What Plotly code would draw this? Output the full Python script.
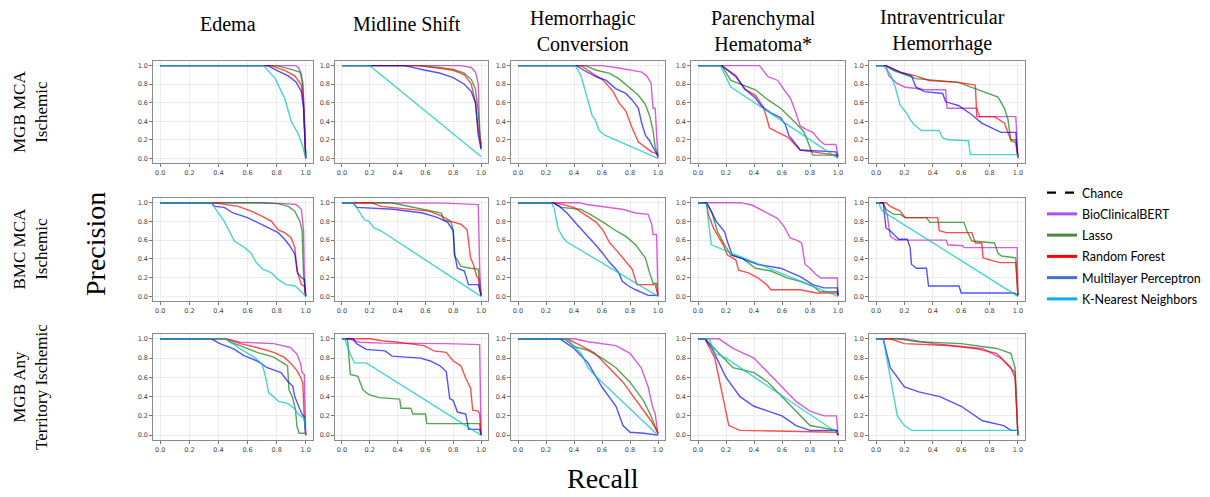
import plotly.graph_objects as go

# ---------------- data ----------------
CONDITIONS = ["Edema", "Midline Shift", "Hemorrhagic<br>Conversion",
              "Parenchymal<br>Hematoma*", "Intraventricular<br>Hemorrhage"]
COHORTS = ["MGB MCA<br>Ischemic", "BMC MCA<br>Ischemic", "MGB Any<br>Territory Ischemic"]
MODELS = ["BioClinicalBERT", "Lasso", "Random Forest", "Multilayer Perceptron", "K-Nearest Neighbors"]
TICKS = [0.0, 0.2, 0.4, 0.6, 0.8, 1.0]
TICK_LABELS = ["0.0", "0.2", "0.4", "0.6", "0.8", "1.0"]

# each curve: list of [recall, precision] points
# ---- row 1: MGB MCA Ischemic ----
R1_EDEMA = {
    "BioClinicalBERT": [[0, 1], [0.93, 1], [0.95, 0.98], [0.97, 0.91], [0.985, 0.65], [0.995, 0.3], [1.0, 0.0]],
    "Lasso": [[0, 1], [0.8, 1], [0.9, 0.96], [0.96, 0.93], [0.98, 0.82], [0.99, 0.47], [1.0, 0.0]],
    "Random Forest": [[0, 1], [0.76, 1], [0.855, 0.95], [0.925, 0.89], [0.97, 0.79], [0.985, 0.58], [1.0, 0.0]],
    "Multilayer Perceptron": [[0, 1], [0.74, 1], [0.8, 0.95], [0.88, 0.89], [0.935, 0.82], [0.97, 0.72], [0.985, 0.54], [1.0, 0.0]],
    "K-Nearest Neighbors": [[0, 1], [0.71, 1], [0.79, 0.86], [0.855, 0.65], [0.9, 0.4], [0.95, 0.26], [0.975, 0.15], [1.0, 0.0]],
}
R1_MIDLINE = {
    "BioClinicalBERT": [[0, 1], [0.85, 1], [0.93, 0.98], [0.96, 0.93], [0.98, 0.8], [0.99, 0.3], [1.0, 0.1]],
    "Lasso": [[0, 1], [0.55, 1], [0.7, 0.98], [0.8, 0.96], [0.88, 0.92], [0.93, 0.85], [0.96, 0.75], [0.98, 0.5], [0.99, 0.3], [1.0, 0.12]],
    "Random Forest": [[0, 1], [0.55, 1], [0.7, 0.97], [0.8, 0.95], [0.88, 0.9], [0.93, 0.8], [0.96, 0.6], [0.98, 0.3], [1.0, 0.15]],
    "Multilayer Perceptron": [[0, 1], [0.45, 1], [0.6, 0.95], [0.7, 0.92], [0.8, 0.87], [0.88, 0.8], [0.93, 0.72], [0.96, 0.6], [0.98, 0.25], [1.0, 0.1]],
    "K-Nearest Neighbors": [[0, 1], [0.2, 1], [1.0, 0.02]],
}
R1_HEMCONV = {
    "BioClinicalBERT": [[0, 1], [0.6, 1], [0.72, 0.975], [0.885, 0.93], [0.92, 0.89], [0.95, 0.81], [0.965, 0.54], [0.98, 0.54], [0.99, 0.26], [1.0, 0.0]],
    "Lasso": [[0, 1], [0.48, 1], [0.56, 0.95], [0.65, 0.92], [0.72, 0.86], [0.79, 0.77], [0.86, 0.68], [0.91, 0.58], [0.94, 0.46], [0.965, 0.3], [0.98, 0.12], [1.0, 0.02]],
    "Random Forest": [[0, 1], [0.45, 1], [0.54, 0.91], [0.61, 0.84], [0.68, 0.72], [0.72, 0.6], [0.77, 0.51], [0.815, 0.33], [0.86, 0.175], [0.91, 0.12], [0.955, 0.07], [0.99, 0.05], [1.0, 0.02]],
    "Multilayer Perceptron": [[0, 1], [0.42, 1], [0.47, 0.95], [0.56, 0.88], [0.63, 0.84], [0.7, 0.75], [0.77, 0.7], [0.815, 0.63], [0.86, 0.54], [0.885, 0.37], [0.91, 0.25], [0.94, 0.19], [0.975, 0.09], [1.0, 0.03]],
    "K-Nearest Neighbors": [[0, 1], [0.41, 1], [0.45, 0.89], [0.48, 0.72], [0.5, 0.61], [0.53, 0.46], [0.55, 0.42], [0.58, 0.3], [0.62, 0.25], [1.0, 0.0]],
}
R1_PARHEM = {
    "BioClinicalBERT": [[0, 1], [0.44, 1], [0.5, 0.88], [0.57, 0.84], [0.615, 0.74], [0.66, 0.65], [0.695, 0.51], [0.73, 0.35], [0.775, 0.31], [0.82, 0.28], [0.87, 0.19], [0.905, 0.15], [0.985, 0.15], [1.0, 0.03]],
    "Lasso": [[0, 1], [0.17, 1], [0.235, 0.84], [0.29, 0.81], [0.41, 0.74], [0.5, 0.63], [0.59, 0.54], [0.685, 0.4], [0.755, 0.29], [0.79, 0.16], [0.82, 0.035], [0.985, 0.035], [1.0, 0.01]],
    "Random Forest": [[0, 1], [0.17, 1], [0.27, 0.895], [0.33, 0.75], [0.41, 0.68], [0.465, 0.56], [0.49, 0.44], [0.51, 0.33], [0.57, 0.28], [0.64, 0.23], [0.685, 0.16], [0.73, 0.09], [0.82, 0.07], [0.985, 0.035], [1.0, 0.02]],
    "Multilayer Perceptron": [[0, 1], [0.17, 1], [0.27, 0.88], [0.34, 0.74], [0.41, 0.65], [0.455, 0.56], [0.52, 0.49], [0.59, 0.44], [0.625, 0.36], [0.65, 0.245], [0.695, 0.16], [0.73, 0.09], [0.985, 0.07], [1.0, 0.02]],
    "K-Nearest Neighbors": [[0, 1], [0.16, 1], [0.235, 0.77], [1.0, 0.0]],
}
R1_IVH = {
    "BioClinicalBERT": [[0, 1], [0.07, 1], [0.09, 0.89], [0.145, 0.81], [0.2, 0.77], [0.35, 0.74], [0.49, 0.74], [0.5, 0.54], [0.71, 0.54], [0.73, 0.45], [0.985, 0.45], [1.0, 0.01]],
    "Lasso": [[0, 1], [0.07, 1], [0.12, 0.95], [0.28, 0.86], [0.58, 0.82], [0.7, 0.75], [0.79, 0.7], [0.86, 0.66], [0.905, 0.54], [0.93, 0.42], [0.95, 0.19], [0.985, 0.17], [1.0, 0.01]],
    "Random Forest": [[0, 1], [0.07, 1], [0.17, 0.93], [0.28, 0.89], [0.375, 0.84], [0.58, 0.82], [0.7, 0.79], [0.71, 0.45], [0.835, 0.45], [0.905, 0.38], [0.95, 0.2], [0.985, 0.2], [1.0, 0.01]],
    "Multilayer Perceptron": [[0, 1], [0.07, 1], [0.17, 0.93], [0.25, 0.89], [0.28, 0.77], [0.34, 0.72], [0.47, 0.7], [0.49, 0.61], [0.58, 0.57], [0.675, 0.47], [0.745, 0.38], [0.81, 0.33], [0.88, 0.28], [0.985, 0.28], [1.0, 0.01]],
    "K-Nearest Neighbors": [[0, 1], [0.05, 1], [0.1, 0.91], [0.135, 0.77], [0.17, 0.57], [0.215, 0.49], [0.24, 0.42], [0.27, 0.36], [0.32, 0.3], [0.445, 0.3], [0.47, 0.22], [0.51, 0.2], [0.65, 0.19], [0.665, 0.04], [0.995, 0.04], [1.0, 0.0]],
}
# ---- row 2: BMC MCA Ischemic ----
R2_EDEMA = {
    "BioClinicalBERT": [[0, 1], [0.65, 1], [0.855, 0.99], [0.935, 0.98], [0.97, 0.93], [0.985, 0.7], [0.99, 0.27], [1.0, 0.0]],
    "Lasso": [[0, 1], [0.7, 1], [0.81, 0.99], [0.88, 0.96], [0.925, 0.91], [0.96, 0.8], [0.975, 0.7], [0.985, 0.23], [1.0, 0.0]],
    "Random Forest": [[0, 1], [0.36, 1], [0.535, 0.96], [0.625, 0.91], [0.695, 0.86], [0.765, 0.8], [0.81, 0.71], [0.855, 0.68], [0.9, 0.625], [0.925, 0.52], [0.94, 0.27], [0.97, 0.125], [0.99, 0.11], [1.0, 0.0]],
    "Multilayer Perceptron": [[0, 1], [0.35, 1], [0.375, 0.96], [0.44, 0.95], [0.5, 0.89], [0.6, 0.84], [0.72, 0.75], [0.81, 0.68], [0.855, 0.61], [0.89, 0.54], [0.925, 0.45], [0.945, 0.25], [0.97, 0.2], [0.99, 0.18], [1.0, 0.0]],
    "K-Nearest Neighbors": [[0, 1], [0.35, 1], [0.44, 0.8], [0.51, 0.59], [0.58, 0.52], [0.625, 0.46], [0.66, 0.36], [0.705, 0.29], [0.765, 0.25], [0.81, 0.18], [0.865, 0.125], [0.925, 0.11], [0.97, 0.05], [1.0, 0.0]],
}
R2_MIDLINE = {
    "BioClinicalBERT": [[0, 1], [0.5, 1], [0.74, 0.995], [0.98, 0.98], [0.99, 0.3], [1.0, 0.0]],
    "Lasso": [[0, 1], [0.35, 1], [0.415, 0.98], [0.58, 0.93], [0.715, 0.89], [0.73, 0.82], [0.785, 0.79], [0.8, 0.7], [0.81, 0.43], [0.83, 0.39], [0.855, 0.32], [0.925, 0.3], [0.98, 0.29], [1.0, 0.01]],
    "Random Forest": [[0, 1], [0.21, 1], [0.28, 0.96], [0.51, 0.93], [0.625, 0.91], [0.715, 0.86], [0.785, 0.8], [0.855, 0.77], [0.9, 0.71], [0.925, 0.41], [0.945, 0.34], [0.97, 0.21], [0.98, 0.2], [1.0, 0.0]],
    "Multilayer Perceptron": [[0, 1], [0.08, 1], [0.105, 0.95], [0.37, 0.93], [0.58, 0.89], [0.69, 0.84], [0.76, 0.79], [0.8, 0.7], [0.81, 0.45], [0.83, 0.3], [0.88, 0.27], [0.91, 0.125], [0.98, 0.125], [1.0, 0.01]],
    "K-Nearest Neighbors": [[0, 1], [0.08, 1], [0.105, 0.95], [0.16, 0.82], [0.195, 0.8], [0.23, 0.73], [0.28, 0.7], [1.0, 0.0]],
}
R2_HEMCONV = {
    "BioClinicalBERT": [[0, 1], [0.44, 1], [0.49, 0.98], [0.61, 0.96], [0.745, 0.93], [0.84, 0.89], [0.93, 0.875], [0.955, 0.77], [0.965, 0.66], [0.99, 0.66], [1.0, 0.0]],
    "Lasso": [[0, 1], [0.25, 1], [0.31, 0.95], [0.445, 0.93], [0.515, 0.875], [0.61, 0.79], [0.7, 0.7], [0.77, 0.64], [0.84, 0.55], [0.91, 0.41], [0.94, 0.25], [0.965, 0.14], [0.99, 0.14], [1.0, 0.01]],
    "Random Forest": [[0, 1], [0.26, 1], [0.4, 0.95], [0.49, 0.86], [0.56, 0.79], [0.61, 0.7], [0.655, 0.57], [0.71, 0.48], [0.77, 0.375], [0.815, 0.29], [0.85, 0.125], [0.98, 0.125], [1.0, 0.01]],
    "Multilayer Perceptron": [[0, 1], [0.25, 1], [0.295, 0.96], [0.35, 0.89], [0.42, 0.77], [0.49, 0.66], [0.56, 0.54], [0.61, 0.45], [0.655, 0.36], [0.7, 0.29], [0.72, 0.25], [0.745, 0.16], [0.79, 0.11], [0.84, 0.07], [0.885, 0.036], [0.93, 0.01], [1.0, 0.01]],
    "K-Nearest Neighbors": [[0, 1], [0.24, 1], [0.26, 0.93], [0.285, 0.73], [0.32, 0.63], [0.35, 0.58], [1.0, 0.0]],
}
R2_PARHEM = {
    "BioClinicalBERT": [[0, 1], [0.3, 1], [0.385, 0.975], [0.43, 0.94], [0.5, 0.89], [0.57, 0.83], [0.615, 0.745], [0.66, 0.62], [0.705, 0.6], [0.74, 0.57], [0.765, 0.34], [0.8, 0.3], [0.845, 0.23], [0.88, 0.195], [0.995, 0.195], [1.0, 0.0]],
    "Lasso": [[0, 1], [0.06, 1], [0.1, 0.89], [0.14, 0.69], [0.19, 0.55], [0.235, 0.44], [0.315, 0.41], [0.41, 0.3], [0.52, 0.27], [0.64, 0.195], [0.73, 0.16], [0.82, 0.11], [0.87, 0.05], [0.995, 0.05], [1.0, 0.01]],
    "Random Forest": [[0, 1], [0.06, 1], [0.075, 0.87], [0.11, 0.73], [0.18, 0.55], [0.21, 0.44], [0.27, 0.39], [0.29, 0.28], [0.36, 0.25], [0.43, 0.195], [0.49, 0.125], [0.52, 0.07], [0.73, 0.07], [0.845, 0.035], [0.995, 0.035], [1.0, 0.01]],
    "Multilayer Perceptron": [[0, 1], [0.06, 1], [0.085, 0.94], [0.13, 0.8], [0.19, 0.69], [0.21, 0.585], [0.245, 0.44], [0.34, 0.39], [0.43, 0.34], [0.59, 0.3], [0.64, 0.27], [0.73, 0.21], [0.82, 0.125], [0.9, 0.09], [0.995, 0.09], [1.0, 0.01]],
    "K-Nearest Neighbors": [[0, 1], [0.06, 0.99], [0.095, 0.55], [1.0, 0.0]],
}
R2_IVH = {
    "BioClinicalBERT": [[0, 1], [0.05, 1], [0.08, 0.86], [0.1, 0.64], [0.14, 0.6], [0.495, 0.6], [0.505, 0.55], [0.61, 0.54], [0.62, 0.52], [0.995, 0.52], [1.0, 0.01]],
    "Lasso": [[0, 1], [0.05, 1], [0.07, 0.93], [0.125, 0.875], [0.17, 0.875], [0.205, 0.84], [0.355, 0.84], [0.38, 0.79], [0.62, 0.79], [0.64, 0.7], [0.675, 0.59], [0.835, 0.57], [0.86, 0.46], [0.885, 0.43], [0.985, 0.41], [1.0, 0.01]],
    "Random Forest": [[0, 1], [0.07, 1], [0.1, 0.96], [0.17, 0.91], [0.205, 0.84], [0.435, 0.84], [0.445, 0.7], [0.495, 0.68], [0.675, 0.68], [0.7, 0.57], [0.745, 0.57], [0.755, 0.41], [0.87, 0.36], [0.985, 0.36], [1.0, 0.01]],
    "Multilayer Perceptron": [[0, 1], [0.05, 1], [0.07, 0.73], [0.1, 0.7], [0.125, 0.66], [0.16, 0.61], [0.22, 0.61], [0.24, 0.52], [0.25, 0.34], [0.285, 0.3], [0.355, 0.3], [0.37, 0.11], [0.585, 0.11], [0.6, 0.036], [0.975, 0.036], [1.0, 0.01]],
    "K-Nearest Neighbors": [[0, 1], [0.02, 1], [0.035, 0.93], [0.045, 0.91], [1.0, 0.0]],
}
# ---- row 3: MGB Any Territory Ischemic ----
R3_EDEMA = {
    "BioClinicalBERT": [[0, 1], [0.45, 1], [0.55, 0.965], [0.78, 0.95], [0.895, 0.91], [0.94, 0.84], [0.965, 0.74], [0.975, 0.65], [0.99, 0.63], [0.995, 0.28], [1.0, 0.0]],
    "Lasso": [[0, 1], [0.45, 1], [0.48, 0.965], [0.55, 0.93], [0.665, 0.86], [0.78, 0.81], [0.875, 0.72], [0.885, 0.47], [0.91, 0.39], [0.93, 0.26], [0.94, 0.09], [0.955, 0.02], [1.0, 0.02]],
    "Random Forest": [[0, 1], [0.45, 1], [0.55, 0.95], [0.665, 0.91], [0.78, 0.86], [0.85, 0.81], [0.895, 0.75], [0.94, 0.67], [0.965, 0.6], [0.98, 0.54], [0.99, 0.175], [1.0, 0.0]],
    "Multilayer Perceptron": [[0, 1], [0.35, 1], [0.41, 0.95], [0.505, 0.895], [0.575, 0.825], [0.665, 0.77], [0.735, 0.7], [0.83, 0.65], [0.875, 0.56], [0.91, 0.51], [0.925, 0.4], [0.95, 0.3], [0.97, 0.23], [0.99, 0.19], [1.0, 0.0]],
    "K-Nearest Neighbors": [[0, 1], [0.45, 1], [0.55, 0.895], [0.645, 0.81], [0.7, 0.74], [0.725, 0.6], [0.745, 0.44], [0.78, 0.4], [0.815, 0.35], [0.875, 0.33], [0.92, 0.28], [0.955, 0.21], [0.99, 0.175], [1.0, 0.0]],
}
R3_MIDLINE = {
    "BioClinicalBERT": [[0, 1], [0.05, 1], [0.125, 0.965], [0.29, 0.955], [0.75, 0.95], [0.99, 0.94], [1.0, 0.0]],
    "Lasso": [[0, 1], [0.04, 1], [0.045, 0.91], [0.06, 0.63], [0.115, 0.61], [0.15, 0.47], [0.195, 0.42], [0.265, 0.39], [0.415, 0.375], [0.425, 0.28], [0.495, 0.28], [0.51, 0.22], [0.6, 0.22], [0.61, 0.12], [0.99, 0.12], [1.0, 0.0]],
    "Random Forest": [[0, 1], [0.2, 1], [0.29, 0.98], [0.405, 0.965], [0.59, 0.93], [0.66, 0.875], [0.75, 0.86], [0.8, 0.77], [0.855, 0.72], [0.89, 0.59], [0.925, 0.49], [0.94, 0.26], [0.98, 0.25], [0.99, 0.22], [1.0, 0.0]],
    "Multilayer Perceptron": [[0, 1], [0.08, 1], [0.105, 0.95], [0.175, 0.89], [0.31, 0.875], [0.36, 0.82], [0.565, 0.8], [0.635, 0.77], [0.705, 0.72], [0.75, 0.66], [0.775, 0.38], [0.8, 0.36], [0.83, 0.24], [0.89, 0.22], [0.91, 0.06], [0.99, 0.06], [1.0, 0.0]],
    "K-Nearest Neighbors": [[0, 1], [0.02, 1], [0.06, 0.84], [0.09, 0.75], [0.175, 0.75], [1.0, 0.0]],
}
R3_HEMCONV = {
    "BioClinicalBERT": [[0, 1], [0.4, 1], [0.5, 0.97], [0.7, 0.93], [0.8, 0.85], [0.88, 0.7], [0.93, 0.5], [0.96, 0.3], [0.98, 0.22], [1.0, 0.0]],
    "Lasso": [[0, 1], [0.33, 1], [0.4, 0.92], [0.5, 0.88], [0.6, 0.8], [0.7, 0.7], [0.8, 0.55], [0.85, 0.45], [0.9, 0.35], [0.95, 0.2], [1.0, 0.02]],
    "Random Forest": [[0, 1], [0.35, 1], [0.45, 0.93], [0.55, 0.85], [0.65, 0.7], [0.75, 0.55], [0.8, 0.45], [0.85, 0.35], [0.9, 0.25], [0.95, 0.15], [1.0, 0.02]],
    "Multilayer Perceptron": [[0, 1], [0.3, 1], [0.4, 0.9], [0.5, 0.75], [0.6, 0.5], [0.7, 0.3], [0.75, 0.1], [0.8, 0.03], [0.9, 0.02], [1.0, 0.0]],
    "K-Nearest Neighbors": [[0, 1], [0.35, 1], [0.45, 0.85], [0.5, 0.7], [0.55, 0.62], [1.0, 0.0]],
}
R3_PARHEM = {
    "BioClinicalBERT": [[0, 1], [0.15, 1], [0.25, 0.9], [0.4, 0.8], [0.5, 0.65], [0.6, 0.5], [0.7, 0.35], [0.8, 0.25], [0.9, 0.2], [0.99, 0.2], [1.0, 0.0]],
    "Lasso": [[0, 1], [0.05, 1], [0.15, 0.85], [0.25, 0.7], [0.4, 0.65], [0.5, 0.55], [0.6, 0.4], [0.7, 0.25], [0.8, 0.1], [0.99, 0.05], [1.0, 0.0]],
    "Random Forest": [[0, 1], [0.05, 1], [0.12, 0.8], [0.18, 0.4], [0.22, 0.1], [0.3, 0.05], [0.99, 0.03], [1.0, 0.0]],
    "Multilayer Perceptron": [[0, 1], [0.05, 1], [0.1, 0.9], [0.2, 0.6], [0.3, 0.4], [0.4, 0.3], [0.5, 0.25], [0.6, 0.2], [0.7, 0.1], [0.8, 0.05], [0.99, 0.05], [1.0, 0.0]],
    "K-Nearest Neighbors": [[0, 1], [0.08, 1], [0.12, 0.85], [0.2, 0.8], [1.0, 0.02]],
}
R3_IVH = {
    "BioClinicalBERT": [[0, 1], [0.2, 1], [0.4, 0.95], [0.75, 0.9], [0.88, 0.8], [0.95, 0.7], [0.98, 0.65], [1.0, 0.0]],
    "Lasso": [[0, 1], [0.15, 1], [0.3, 0.97], [0.6, 0.95], [0.85, 0.9], [0.95, 0.85], [0.98, 0.7], [1.0, 0.0]],
    "Random Forest": [[0, 1], [0.1, 1], [0.2, 0.95], [0.5, 0.93], [0.7, 0.9], [0.85, 0.85], [0.95, 0.7], [0.98, 0.6], [1.0, 0.0]],
    "Multilayer Perceptron": [[0, 1], [0.05, 1], [0.1, 0.7], [0.2, 0.5], [0.3, 0.45], [0.45, 0.4], [0.6, 0.3], [0.75, 0.15], [0.9, 0.1], [0.95, 0.05], [1.0, 0.05]],
    "K-Nearest Neighbors": [[0, 1], [0.05, 1], [0.1, 0.6], [0.15, 0.2], [0.2, 0.1], [0.25, 0.05], [1.0, 0.05]],
}

PANELS = [
    [R1_EDEMA, R1_MIDLINE, R1_HEMCONV, R1_PARHEM, R1_IVH],
    [R2_EDEMA, R2_MIDLINE, R2_HEMCONV, R2_PARHEM, R2_IVH],
    [R3_EDEMA, R3_MIDLINE, R3_HEMCONV, R3_PARHEM, R3_IVH],
]

# ---------------- style ----------------
W, H = 1210, 497
CURVE_COLORS = {
    "BioClinicalBERT": "rgba(200,40,200,0.75)",
    "Lasso": "rgba(20,130,20,0.72)",
    "Random Forest": "rgba(255,0,0,0.7)",
    "Multilayer Perceptron": "rgba(0,0,255,0.68)",
    "K-Nearest Neighbors": "rgba(0,195,195,0.72)",
}
LEGEND_COLORS = {
    "BioClinicalBERT": "#b14ff2",
    "Lasso": "#4c8a3a",
    "Random Forest": "#ff0000",
    "Multilayer Perceptron": "#4472c4",
    "K-Nearest Neighbors": "#00b0f0",
}
COL_PX = [(145, 305), (327, 480), (503, 657), (683, 837), (861, 1017)]
ROW_PX = [(53, 155), (190, 293), (326, 432)]
SERIF = "Liberation Serif, Times New Roman, serif"

fig = go.Figure()
layout_axes = {}
for r in range(3):
    for c in range(5):
        idx = r * 5 + c + 1
        xname = "x" if idx == 1 else f"x{idx}"
        yname = "y" if idx == 1 else f"y{idx}"
        x0, x1 = COL_PX[c]
        y0, y1 = ROW_PX[r]
        common = dict(range=[-0.05, 1.05], tickvals=TICKS, ticktext=TICK_LABELS,
                      showgrid=True, gridcolor="#ececec", gridwidth=0.8,
                      zeroline=False, showline=True, linecolor="#8a8a8a", linewidth=1.4,
                      mirror=True, ticks="outside", ticklen=2.5, tickcolor="#777",
                      tickfont=dict(size=6.5, color="#444", family="DejaVu Sans"),
                      fixedrange=True)
        layout_axes["xaxis" if idx == 1 else f"xaxis{idx}"] = dict(
            domain=[x0 / W, x1 / W], anchor=yname, **common)
        layout_axes["yaxis" if idx == 1 else f"yaxis{idx}"] = dict(
            domain=[1 - y1 / H, 1 - y0 / H], anchor=xname, **common)
        panel = PANELS[r][c]
        for m in MODELS:
            pts = panel[m]
            fig.add_trace(go.Scatter(
                x=[p[0] for p in pts], y=[p[1] for p in pts], mode="lines",
                line=dict(color=CURVE_COLORS[m], width=1.4),
                xaxis=xname, yaxis=yname, showlegend=False, hoverinfo="skip"))

# legend entries (each in its own group so the group gap spaces them)
fig.add_trace(go.Scatter(x=[None], y=[None], mode="lines", name="Chance",
                         legendgroup="chance",
                         line=dict(color="black", width=2.2, dash="dash")))
for m in MODELS:
    fig.add_trace(go.Scatter(x=[None], y=[None], mode="lines", name=m, legendgroup=m,
                             line=dict(color=LEGEND_COLORS[m], width=3)))

ann = []
for c, t in enumerate(CONDITIONS):
    cx = (COL_PX[c][0] + COL_PX[c][1]) / 2 - 5
    ty = 23 if "<br>" in t else 16
    ann.append(dict(text=t, x=cx / W, y=1 - ty / H, xref="paper", yref="paper",
                    showarrow=False, xanchor="center", yanchor="middle",
                    font=dict(family=SERIF, size=20, color="black")))
ROW_LABEL_X = [22, 22, 22]
for r, t in enumerate(COHORTS):
    cy = (ROW_PX[r][0] + ROW_PX[r][1]) / 2
    ann.append(dict(text=t, x=ROW_LABEL_X[r] / W, y=1 - cy / H, xref="paper", yref="paper",
                    showarrow=False, xanchor="center", yanchor="middle", textangle=-90,
                    font=dict(family=SERIF, size=17, color="black")))
ann.append(dict(text="Precision", x=87 / W, y=1 - 236 / H, xref="paper", yref="paper",
                showarrow=False, xanchor="center", yanchor="middle", textangle=-90,
                font=dict(family=SERIF, size=28, color="black")))
ann.append(dict(text="Recall", x=595 / W, y=1 - 470 / H, xref="paper", yref="paper",
                showarrow=False, xanchor="center", yanchor="middle",
                font=dict(family=SERIF, size=28, color="black")))

fig.update_layout(
    width=W, height=H, margin=dict(l=0, r=0, t=0, b=0),
    paper_bgcolor="white", plot_bgcolor="white",
    showlegend=True,
    legend=dict(x=1034 / W, y=1 - 170 / H, xanchor="left", yanchor="top",
                font=dict(family="Lato, Open Sans, sans-serif", size=12.5, color="black"),
                bgcolor="rgba(0,0,0,0)", tracegroupgap=2, itemwidth=30),
    annotations=ann,
    **layout_axes,
)

fig.write_html("out.html")
